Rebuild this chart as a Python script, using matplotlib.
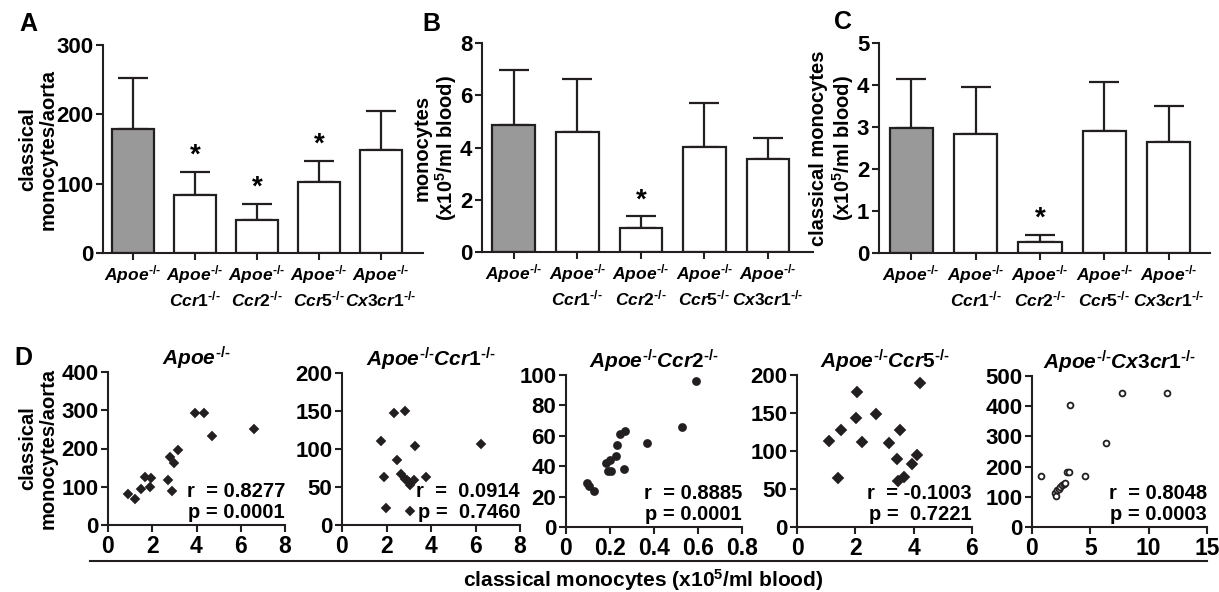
import matplotlib
matplotlib.use("Agg")
import matplotlib.pyplot as plt
from matplotlib.lines import Line2D

plt.rcParams['font.family'] = ['Liberation Sans', 'DejaVu Sans']
plt.rcParams['font.weight'] = 'bold'
plt.rcParams['axes.labelweight'] = 'bold'
plt.rcParams['axes.titleweight'] = 'bold'
plt.rcParams['mathtext.fontset'] = 'custom'
plt.rcParams['mathtext.rm'] = 'Liberation Sans:bold'
plt.rcParams['mathtext.it'] = 'Liberation Sans:italic:bold'
plt.rcParams['mathtext.bf'] = 'Liberation Sans:bold'

# ---- data ----
KO = r"^{\text{-/-}}"
bar_labels = [r"$Apoe" + KO + "$",
              r"$Apoe" + KO + "$\n" + r"$\mathit{Ccr1}" + KO + "$",
              r"$Apoe" + KO + "$\n" + r"$\mathit{Ccr2}" + KO + "$",
              r"$Apoe" + KO + "$\n" + r"$\mathit{Ccr5}" + KO + "$",
              r"$Apoe" + KO + "$\n" + r"$\mathit{Cx3cr1}" + KO + "$"]

aorta_mean = [179, 84, 48, 103, 149]
aorta_err = [74, 33, 23, 30, 56]
aorta_star = [False, True, True, True, False]

blood_mean = [4.87, 4.58, 0.92, 4.02, 3.55]
blood_err = [2.08, 2.04, 0.46, 1.70, 0.80]
blood_star = [False, False, True, False, False]

classical_mean = [2.97, 2.83, 0.27, 2.90, 2.64]
classical_err = [1.18, 1.12, 0.17, 1.17, 0.85]
classical_star = [False, False, True, False, False]

# panel D scatter data (classical monocytes x10^5/ml blood vs monocytes/aorta)
apoe_x = [0.91, 1.21, 1.51, 1.69, 1.96, 1.92, 2.72, 2.79, 2.91, 2.99, 3.17, 3.92, 4.33, 4.70, 6.60]
apoe_y = [81, 67, 93, 125, 122, 99, 118, 177, 90, 162, 197, 293, 293, 233, 251]

ccr1_x = [1.76, 1.87, 1.99, 2.34, 2.81, 2.46, 2.66, 2.84, 2.91, 2.99, 3.06, 3.24, 3.06, 3.28, 3.78, 6.24]
ccr1_y = [111, 63, 23, 147, 150, 85, 67, 61, 59, 56, 53, 59, 19, 104, 63, 106]

ccr2_x = [0.095, 0.103, 0.129, 0.183, 0.200, 0.190, 0.206, 0.229, 0.232, 0.247, 0.267, 0.262, 0.368, 0.527, 0.592]
ccr2_y = [29, 27, 24, 42, 44, 37, 37, 47, 54, 61, 63, 38, 55, 66, 96]

ccr5_x = [1.09, 1.39, 1.50, 2.02, 2.05, 2.22, 2.71, 3.17, 3.42, 3.53, 3.47, 3.67, 3.93, 4.12, 4.21]
ccr5_y = [113, 65, 128, 143, 178, 112, 149, 111, 89, 127, 60, 66, 83, 95, 190]

cx3cr1_x = [0.77, 1.99, 2.08, 2.14, 2.28, 2.42, 2.56, 2.71, 2.85, 2.99, 3.19, 3.28, 4.50, 6.32, 7.75, 11.6]
cx3cr1_y = [168, 111, 104, 122, 127, 133, 138, 144, 146, 183, 183, 404, 169, 277, 445, 445]

scatter_titles = [r"$Apoe" + KO + "$",
                  r"$Apoe" + KO + r"\mathit{Ccr1}" + KO + "$",
                  r"$Apoe" + KO + r"\mathit{Ccr2}" + KO + "$",
                  r"$Apoe" + KO + r"\mathit{Ccr5}" + KO + "$",
                  r"$Apoe" + KO + r"\mathit{Cx3cr1}" + KO + "$"]
stats_text = ["r  = 0.8277\np = 0.0001", "r  =  0.0914\np =  0.7460", "r  = 0.8885\np = 0.0001",
              "r  = -0.1003\np =  0.7221", "r  = 0.8048\np = 0.0003"]

W, H = 1219, 592
ink = '#231f20'
fig = plt.figure(figsize=(W / 100, H / 100), dpi=100)


def px_axes(l, t, r, b):
    return fig.add_axes([l / W, 1 - b / H, (r - l) / W, (b - t) / H])


def style(ax):
    for s in ['top', 'right']:
        ax.spines[s].set_visible(False)
    for s in ['left', 'bottom']:
        ax.spines[s].set_linewidth(1.5)
        ax.spines[s].set_color(ink)
    ax.tick_params(width=1.5, length=5, color=ink, labelsize=16, pad=2)
    for t in ax.get_xticklabels() + ax.get_yticklabels():
        t.set_fontweight('bold')


def bar_panel(rect, means, errs, stars, ymax, step, xl, ylabel, label_x):
    ax = px_axes(*rect)
    x = range(len(means))
    colors = ['#999999'] + ['white'] * (len(means) - 1)
    ax.bar(x, means, width=0.67, color=colors, edgecolor=ink, linewidth=1.6, zorder=2)
    ax.errorbar(x, means, yerr=[[0] * len(means), errs], fmt='none', ecolor=ink,
                elinewidth=1.6, capsize=11, capthick=1.6, zorder=1)
    for i, s in enumerate(stars):
        if s:
            ax.annotate('*', (i, means[i] + errs[i]), xytext=(0, 2), textcoords='offset points',
                        ha='center', va='bottom', fontsize=20, fontweight='bold')
    ax.set_ylim(0, ymax)
    ax.set_yticks([step * k for k in range(int(round(ymax / step)) + 1)])
    ax.set_xlim(*xl)
    ax.set_xticks(list(x))
    ax.set_xticklabels(bar_labels)
    style(ax)
    ax.tick_params(axis='x', labelsize=12.5)
    ax.set_ylabel(ylabel, fontsize=14.5, fontweight='bold', linespacing=1.1)
    # label_x is the right edge of the (rotated) label, in pixels
    ax.yaxis.set_label_coords((label_x - rect[0]) / (rect[2] - rect[0]), 0.5)
    return ax


bar_panel((103, 45, 423, 253), aorta_mean, aorta_err, aorta_star, 300, 100, (-0.48, 4.68),
          "classical\nmonocytes/aorta", 58)
bar_panel((482, 43, 813, 252), blood_mean, blood_err, blood_star, 8, 2, (-0.5, 4.71),
          "monocytes\n(x10$^5$/ml blood)", 459)
bar_panel((879, 43, 1210, 253), classical_mean, classical_err, classical_star, 5, 1, (-0.5, 4.64),
          "classical monocytes\n(x10$^5$/ml blood)", 856)

# ---- panel D ----
scatter_rects = [(108, 372, 285, 525), (342, 373, 520, 525), (566, 375, 742, 527),
                 (797, 375, 972, 527), (1032, 376, 1207, 527)]
xs = [apoe_x, ccr1_x, ccr2_x, ccr5_x, cx3cr1_x]
ys = [apoe_y, ccr1_y, ccr2_y, ccr5_y, cx3cr1_y]
xlims = [8, 8, 0.8, 6, 15]
xsteps = [2, 2, 0.2, 2, 5]
ylims = [400, 200, 100, 200, 500]
ysteps = [100, 50, 20, 50, 100]
markers = ['D', 'D', 'o', 'D', 'o']
msizes = [4.2, 4.2, 5, 4.6, 4.2]
faces = [ink, ink, ink, ink, 'white']

for i in range(5):
    ax = px_axes(*scatter_rects[i])
    ax.plot(xs[i], ys[i], linestyle='none', marker=markers[i], markersize=msizes[i],
            markerfacecolor=faces[i], markeredgecolor=ink, markeredgewidth=1.3, clip_on=False)
    ax.set_xlim(0, xlims[i])
    ax.set_ylim(0, ylims[i])
    nx = int(round(xlims[i] / xsteps[i]))
    ax.set_xticks([round(xsteps[i] * k, 1) for k in range(nx + 1)])
    ax.set_xticklabels([('%g' % round(xsteps[i] * k, 1)) for k in range(nx + 1)])
    ny = int(round(ylims[i] / ysteps[i]))
    ax.set_yticks([ysteps[i] * k for k in range(ny + 1)])
    style(ax)
    ax.tick_params(axis='x', labelsize=16.5)
    ax.set_title(scatter_titles[i], fontsize=15, pad=5)
    ax.text(1.0, 0.02, stats_text[i], transform=ax.transAxes, ha='right', va='bottom',
            fontsize=14.5, fontweight='bold', linespacing=1.1)
    if i == 0:
        ax.set_ylabel("classical\nmonocytes/aorta", fontsize=14.5, fontweight='bold',
                      linespacing=1.1)
        ax.yaxis.set_label_coords((58 - 108) / 177, 0.5)

fig.add_artist(Line2D([90 / W, 1207 / W], [1 - 561 / H] * 2, color=ink, linewidth=1.5))
fig.text(643 / W, 1 - 580 / H, "classical monocytes (x10$^5$/ml blood)", ha='center', va='center',
         fontsize=15, fontweight='bold')

# panel letters
for lab, px, py in [('A', 28, 24), ('B', 431, 24), ('C', 843, 22), ('D', 23, 358)]:
    fig.text(px / W, 1 - py / H, lab, fontsize=18, fontweight='bold', ha='center', va='center')

fig.savefig('out.png', dpi=100)
